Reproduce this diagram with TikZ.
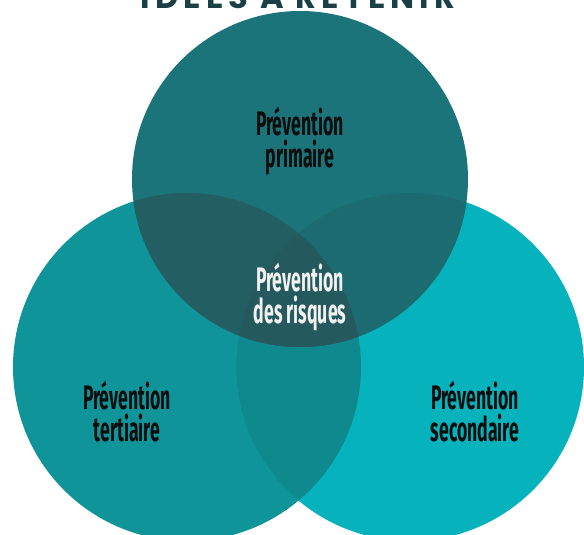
\documentclass[tikz,border=0pt]{standalone}
\usepackage{fontspec}
\usetikzlibrary{positioning}
\newfontfamily\condfont{Fira Sans}[FakeStretch=0.52]
\newfontfamily\titlefont{Poppins}[LetterSpace=16]
\definecolor{topcol}{HTML}{1B7479}
\definecolor{leftcol}{HTML}{0F9599}
\definecolor{rightcol}{HTML}{06B3BC}
\definecolor{lrcol}{HTML}{0E8A8F}
\definecolor{tlcol}{HTML}{225E62}
\definecolor{trcol}{HTML}{1C6B70}
\definecolor{tlrcol}{HTML}{245A5D}
\definecolor{titlecol}{HTML}{1A3F44}

\begin{document}
\begin{tikzpicture}[x=1pt, y=-1pt]
	% ----- Styles -----
	\tikzset{
		zone/.style={circle, minimum size=348pt, inner sep=0pt},
		lbl/.style={align=center, inner sep=0pt, text=black!95,
			font=\condfont\bfseries\fontsize{34}{32}\selectfont},
		lbllight/.style={lbl, text=white!95!black},
		title/.style={anchor=base, text=titlecol, inner sep=0pt,
			font=\titlefont\bfseries\fontsize{32}{34}\selectfont}
	}
	\path[use as bounding box, fill=white] (0,0) rectangle (584,535);
	
	% ----- Circles -----
	\node (tert) [zone, fill=leftcol]  at (187,367) {};
	\node (sec)  [zone, fill=rightcol] at (410,367) {};
	\node (prim) [zone, minimum size=336pt, fill=topcol] at (300,179) {};
	
	% overlaps
	\begin{scope}
		\clip (tert.center) circle[radius=174pt];
		\fill[lrcol] (sec.center) circle[radius=174pt];
		\fill[tlcol] (prim.center) circle[radius=168pt];
		\clip (sec.center) circle[radius=174pt];
		\fill[tlrcol] (prim.center) circle[radius=168pt];
	\end{scope}
	\begin{scope}
		\clip (sec.center) circle[radius=174pt];
		\clip (prim.center) circle[radius=168pt];
		\fill[trcol] (sec.center) circle[radius=174pt];
		\clip (tert.center) circle[radius=174pt];
		\fill[tlrcol] (prim.center) circle[radius=168pt];
	\end{scope}
	
	% ----- Labels -----
	\node (title) [title] at (298,9) {IDÉES À RETENIR};
	\node (lblprim) [lbl]      at (300,141) {Prévention\\primaire};
	\node (lblrisk) [lbllight] at (300,297) {Prévention\\des risques};
	\node (lbltert) [lbl]      at (127,412) {Prévention\\tertiaire};
	\node (lblsec)  [lbl]      at (475,412) {Prévention\\secondaire};
\end{tikzpicture}
\end{document}
